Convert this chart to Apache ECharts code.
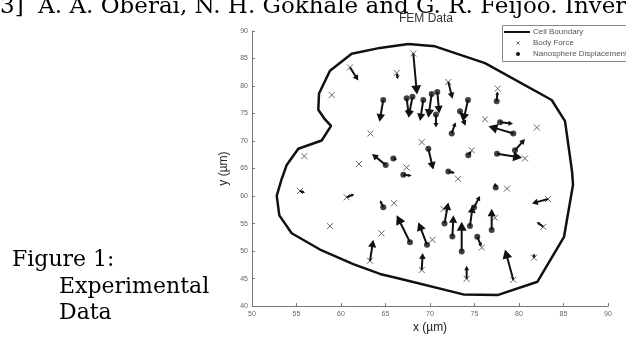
<!DOCTYPE html>
<html><head><meta charset="utf-8">
<script src="https://cdn.jsdelivr.net/npm/echarts@6/dist/echarts.min.js"></script>
<style>html,body{margin:0;padding:0;background:#fff;overflow:hidden}#c{width:626px;height:339px}</style>
</head><body><div id="c"></div>
<script>
// Cell boundary polygon (x, y in µm)
const boundaryX = [67.56,70.56,76.18,83.67,85.17,85.96,86.07,85.06,82.08,77.58,73.74,66.63,64.38,61.38,57.64,54.46,53.07,52.78,53.29,53.90,55.20,57.83,58.88,58.20,57.45,57.53,58.76,61.20,64.38,67.56];
const boundaryY = [87.64,87.21,84.15,77.46,73.63,64.47,62.07,52.59,44.43,42.00,42.13,44.96,45.85,47.62,50.28,53.24,56.49,60.04,62.87,65.66,68.60,70.09,72.75,73.92,75.69,78.65,82.78,85.87,86.93,87.64];

// Body force markers (x)
const forceX = [61.01,58.96,63.31,55.88,62.02,66.26,68.12,72.06,77.61,69.07,74.69,67.38,73.15,76.18,82.00,80.67,55.39,60.64,58.76,63.26,64.55,65.96,70.28,69.07,71.52,74.12,75.81,78.65,77.30,83.26,82.73,81.69,79.36];
const forceY = [83.38,78.35,71.38,67.25,65.83,82.37,85.92,80.73,79.54,69.79,68.31,65.18,63.14,73.95,72.45,66.83,60.92,59.77,54.54,48.24,53.21,58.71,52.06,46.56,57.64,44.96,50.64,61.36,56.05,59.45,54.41,48.81,44.79];

// Displacement arrows: tail (x0,y0) -> head (x1,y1)
const arrowX0 = [61.01,66.29,68.12,64.75,67.38,68.03,69.25,70.19,70.82,70.67,72.06,74.27,73.37,72.44,77.49,79.36,77.87,79.55,77.53,65.02,65.88,69.81,67.00,72.06,74.30,55.39,60.64,64.75,63.26,67.75,69.66,69.07,71.63,72.51,73.56,74.49,74.94,75.31,74.12,77.38,76.93,83.26,82.73,81.69,79.36];
const arrowY0 = [83.38,82.20,85.92,77.46,77.76,78.03,77.46,78.56,78.92,74.84,80.73,77.46,75.41,71.38,77.23,71.38,73.42,68.31,67.71,65.66,66.83,68.60,63.88,64.47,67.43,60.92,59.77,57.96,48.24,51.61,51.17,46.56,55.02,52.64,49.93,54.54,57.91,52.59,44.96,61.54,53.83,59.45,54.41,48.81,44.79];
const arrowX1 = [61.94,66.37,68.54,64.33,67.64,67.58,68.88,69.81,71.04,70.67,72.53,73.74,73.99,72.87,77.58,76.57,79.33,80.67,80.34,63.48,66.29,70.37,67.92,72.81,74.66,55.96,61.49,64.38,63.63,66.26,68.69,69.18,72.06,72.64,73.56,74.80,75.62,75.79,74.12,77.30,76.93,81.46,81.99,81.69,78.43];
const arrowY1 = [81.01,81.22,78.47,73.51,74.40,74.22,73.63,74.22,75.02,72.45,77.68,73.63,72.80,73.42,79.01,72.71,73.16,70.37,66.95,67.66,66.60,64.82,63.70,64.17,68.19,60.62,60.34,59.24,52.06,56.49,55.25,49.66,58.85,56.49,55.34,58.26,60.03,50.82,47.32,62.43,57.68,58.67,55.30,49.57,50.28];

// Nanosphere positions (dots)
const sphereX = [64.75,67.38,68.03,69.25,70.19,70.82,70.67,74.27,73.37,72.44,77.49,79.36,77.87,79.55,77.53,65.02,65.88,69.81,67.00,72.06,74.30,64.75,67.75,69.66,71.63,72.51,73.56,74.49,74.94,75.31,77.38,76.93];
const sphereY = [77.46,77.76,78.03,77.46,78.56,78.92,74.84,77.46,75.41,71.38,77.23,71.38,73.42,68.31,67.71,65.66,66.83,68.60,63.88,64.47,67.43,57.96,51.61,51.17,55.02,52.64,49.93,54.54,57.91,52.59,61.54,53.83];

const xTicks = [50,55,60,65,70,75,80,85,90];
const yTicks = [40,45,50,55,60,65,70,75,80,85,90];

const boundaryData = boundaryX.map((x,i)=>[x,boundaryY[i]]);
const forceData = forceX.map((x,i)=>[x,forceY[i]]);
const arrowData = arrowX0.map((x,i)=>[x,arrowY0[i],arrowX1[i],arrowY1[i]]);
const sphereData = sphereX.map((x,i)=>[x,sphereY[i]]);

const chart = echarts.init(document.getElementById('c'), null, {renderer:'canvas'});
const sans = 'Liberation Sans, Arial, sans-serif';
const serif = 'DejaVu Serif, serif';

chart.setOption({
  animation:false,
  backgroundColor:'#fff',
  grid:{left:252,right:18,top:31,bottom:26,containLabel:false},
  xAxis:{type:'value',min:xTicks[0],max:xTicks[xTicks.length-1],interval:5,
    name:'x (µm)',nameLocation:'middle',nameGap:14,
    nameTextStyle:{fontFamily:sans,fontSize:12,color:'#222'},
    axisLine:{lineStyle:{color:'#777',width:1}},
    axisTick:{inside:true,length:3,lineStyle:{color:'#777'}},
    axisLabel:{fontFamily:sans,fontSize:7,color:'#666',margin:4},
    splitLine:{show:false}},
  yAxis:{type:'value',min:yTicks[0],max:yTicks[yTicks.length-1],interval:5,
    name:'y (µm)',nameLocation:'middle',nameGap:12,
    nameTextStyle:{fontFamily:sans,fontSize:12,color:'#222'},
    axisLine:{show:true,lineStyle:{color:'#777',width:1}},
    axisTick:{show:true,inside:true,length:3,lineStyle:{color:'#777'}},
    axisLabel:{fontFamily:sans,fontSize:7,color:'#666',margin:4},
    splitLine:{show:false}},
  series:[
    {type:'line',name:'Cell Boundary',data:boundaryData,symbol:'none',
      lineStyle:{color:'#111',width:2.5},z:3},
    {type:'custom',name:'Body Force',data:forceData,encode:{x:0,y:1},z:2,
      renderItem:function(params,api){
        const p=api.coord([api.value(0),api.value(1)]); const s=3;
        return {type:'group',children:[
          {type:'line',shape:{x1:p[0]-s,y1:p[1]-s,x2:p[0]+s,y2:p[1]+s},style:{stroke:'#666',lineWidth:1}},
          {type:'line',shape:{x1:p[0]-s,y1:p[1]+s,x2:p[0]+s,y2:p[1]-s},style:{stroke:'#666',lineWidth:1}}
        ]};
      }},
    {type:'custom',name:'Displacement',data:arrowData,encode:{x:[0,2],y:[1,3]},z:4,
      renderItem:function(params,api){
        const p0=api.coord([api.value(0),api.value(1)]);
        const p1=api.coord([api.value(2),api.value(3)]);
        const dx=p1[0]-p0[0], dy=p1[1]-p0[1];
        const len=Math.hypot(dx,dy)||1;
        const ux=dx/len, uy=dy/len;
        const hl=Math.min(9,Math.max(3,len*0.35)), hw=hl*0.55;
        const bx=p1[0]-ux*hl, by=p1[1]-uy*hl;
        return {type:'group',children:[
          {type:'line',shape:{x1:p0[0],y1:p0[1],x2:bx+ux*1,y2:by+uy*1},style:{stroke:'#111',lineWidth:2}},
          {type:'polygon',shape:{points:[[p1[0],p1[1]],[bx-uy*hw,by+ux*hw],[bx+uy*hw,by-ux*hw]]},style:{fill:'#111'}}
        ]};
      }},
    {type:'scatter',name:'Nanosphere Displacement',data:sphereData,symbol:'circle',symbolSize:6,
      itemStyle:{color:'#111'},z:5}
  ],
  graphic:[
    {type:'text',left:0,top:-4,style:{text:'3]  A. A. Oberai, N. H. Gokhale and G. R. Feijoo. Inver',font:'23px '+serif,fill:'#000'}},
    {type:'text',left:399,top:13,style:{text:'FEM Data',font:'12px '+sans,fill:'#333'}},
    {type:'rect',left:502,top:25,shape:{width:140,height:36},style:{fill:'#fff',stroke:'#888',lineWidth:1},z:10},
    {type:'line',shape:{x1:504,y1:32,x2:530,y2:32},style:{stroke:'#111',lineWidth:2},z:11},
    {type:'text',left:533,top:28,style:{text:'Cell Boundary',font:'8px '+sans,fill:'#555'},z:11},
    {type:'line',shape:{x1:516.5,y1:41.5,x2:519.5,y2:44.5},style:{stroke:'#666',lineWidth:1},z:11},
    {type:'line',shape:{x1:516.5,y1:44.5,x2:519.5,y2:41.5},style:{stroke:'#666',lineWidth:1},z:11},
    {type:'text',left:533,top:39,style:{text:'Body Force',font:'8px '+sans,fill:'#555'},z:11},
    {type:'circle',shape:{cx:518,cy:54,r:2},style:{fill:'#111'},z:11},
    {type:'text',left:533,top:50,style:{text:'Nanosphere Displacement',font:'8px '+sans,fill:'#555'},z:11},
    {type:'text',left:12,top:249,style:{text:'Figure 1:',font:'22px '+serif,fill:'#000'}},
    {type:'text',left:59,top:276,style:{text:'Experimental',font:'22px '+serif,fill:'#000'}},
    {type:'text',left:59,top:302,style:{text:'Data',font:'22px '+serif,fill:'#000'}}
  ]
});
</script></body></html>
